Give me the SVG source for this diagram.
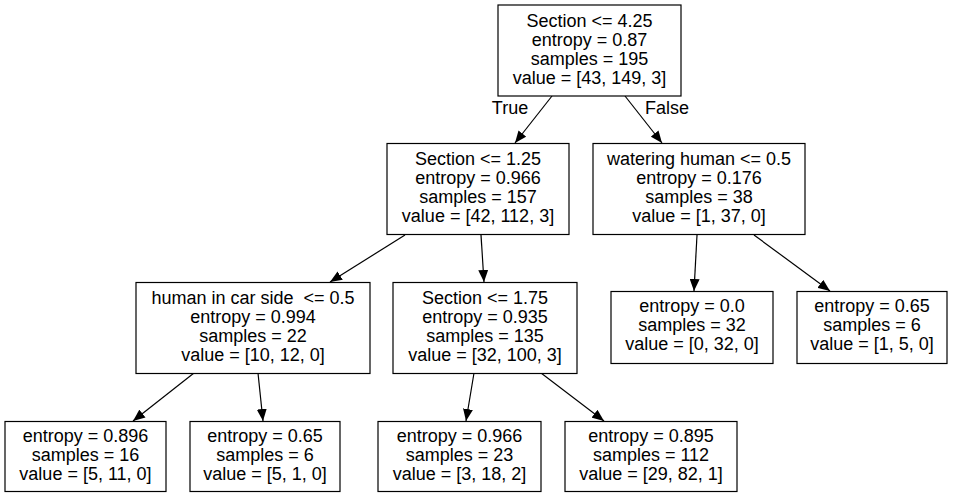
<svg xmlns="http://www.w3.org/2000/svg" width="953" height="497" viewBox="0 0 953 497">
<defs>
<style>
.n rect{fill:#fff;stroke:#000;stroke-width:1.2}
text{font-family:"Liberation Sans",Arial,sans-serif;font-size:18px;fill:#000;text-anchor:middle}
.e line{stroke:#000;stroke-width:1.2}
</style>
<marker id="ah" markerUnits="userSpaceOnUse" markerWidth="12" markerHeight="10" refX="12" refY="5" orient="auto">
<path d="M0,0 L12,5 L0,10 z" fill="#000"/>
</marker>
</defs>
<rect width="953" height="497" fill="#fff"/>
<g id="edges" class="e">
<line x1="552" y1="96" x2="515" y2="143" marker-end="url(#ah)"/>
<line x1="625" y1="96" x2="662" y2="143" marker-end="url(#ah)"/>
<line x1="405" y1="235" x2="330" y2="282" marker-end="url(#ah)"/>
<line x1="481" y1="235" x2="484" y2="282" marker-end="url(#ah)"/>
<line x1="697" y1="235" x2="694" y2="291" marker-end="url(#ah)"/>
<line x1="754" y1="235" x2="830" y2="291" marker-end="url(#ah)"/>
<line x1="194" y1="373" x2="133" y2="421" marker-end="url(#ah)"/>
<line x1="258" y1="373" x2="263" y2="421" marker-end="url(#ah)"/>
<line x1="474" y1="373" x2="466" y2="421" marker-end="url(#ah)"/>
<line x1="541" y1="373" x2="604" y2="421" marker-end="url(#ah)"/>
<text x="510" y="114">True</text>
<text x="667" y="114">False</text>
</g>
<g id="n0" class="n"><rect x="498" y="5" width="183" height="91"/>
<text x="589.5" y="26.5">Section &lt;= 4.25</text><text x="589.5" y="45.5">entropy = 0.87</text><text x="589.5" y="64.5">samples = 195</text><text x="589.5" y="83.5">value = [43, 149, 3]</text></g>
<g id="n1" class="n"><rect x="387" y="143.5" width="182" height="91"/>
<text x="478" y="165">Section &lt;= 1.25</text><text x="478" y="184">entropy = 0.966</text><text x="478" y="203">samples = 157</text><text x="478" y="222">value = [42, 112, 3]</text></g>
<g id="n2" class="n"><rect x="593" y="143.5" width="212" height="91"/>
<text x="699" y="165">watering human &lt;= 0.5</text><text x="699" y="184">entropy = 0.176</text><text x="699" y="203">samples = 38</text><text x="699" y="222">value = [1, 37, 0]</text></g>
<g id="n3" class="n"><rect x="136" y="282.5" width="234" height="91"/>
<text x="253" y="304" xml:space="preserve">human in car side  &lt;= 0.5</text><text x="253" y="323">entropy = 0.994</text><text x="253" y="342">samples = 22</text><text x="253" y="361">value = [10, 12, 0]</text></g>
<g id="n4" class="n"><rect x="393" y="282.5" width="184" height="91"/>
<text x="485" y="304">Section &lt;= 1.75</text><text x="485" y="323">entropy = 0.935</text><text x="485" y="342">samples = 135</text><text x="485" y="361">value = [32, 100, 3]</text></g>
<g id="n5" class="n"><rect x="611" y="291.5" width="162" height="72"/>
<text x="692" y="312">entropy = 0.0</text><text x="692" y="331">samples = 32</text><text x="692" y="350">value = [0, 32, 0]</text></g>
<g id="n6" class="n"><rect x="797" y="291.5" width="150" height="72"/>
<text x="872" y="312">entropy = 0.65</text><text x="872" y="331">samples = 6</text><text x="872" y="350">value = [1, 5, 0]</text></g>
<g id="n7" class="n"><rect x="5" y="421.5" width="161" height="70"/>
<text x="85.5" y="441.5">entropy = 0.896</text><text x="85.5" y="460.5">samples = 16</text><text x="85.5" y="479.5">value = [5, 11, 0]</text></g>
<g id="n8" class="n"><rect x="190" y="421.5" width="150" height="70"/>
<text x="265" y="441.5">entropy = 0.65</text><text x="265" y="460.5">samples = 6</text><text x="265" y="479.5">value = [5, 1, 0]</text></g>
<g id="n9" class="n"><rect x="378" y="421.5" width="163" height="70"/>
<text x="459.5" y="441.5">entropy = 0.966</text><text x="459.5" y="460.5">samples = 23</text><text x="459.5" y="479.5">value = [3, 18, 2]</text></g>
<g id="n10" class="n"><rect x="565" y="421.5" width="172" height="70"/>
<text x="651" y="441.5">entropy = 0.895</text><text x="651" y="460.5">samples = 112</text><text x="651" y="479.5">value = [29, 82, 1]</text></g>
</svg>
